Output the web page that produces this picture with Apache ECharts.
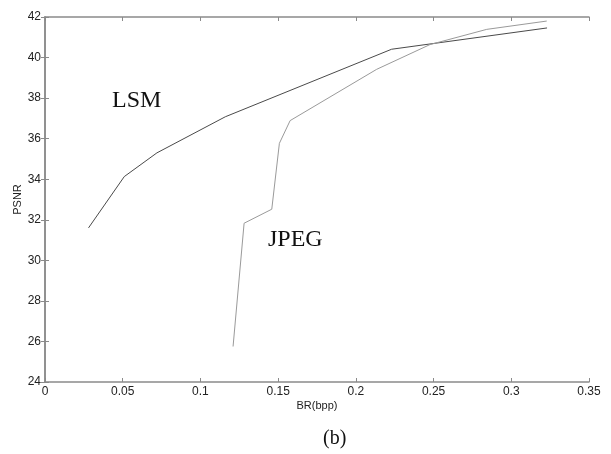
<!DOCTYPE html>
<html>
<head>
<meta charset="utf-8">
<script src="https://cdn.jsdelivr.net/npm/echarts@6/dist/echarts.min.js"></script>
<style>
  html, body { margin: 0; padding: 0; background: #fff; }
  #main { width: 611px; height: 454px; }
</style>
</head>
<body>
<div id="main"></div>
<script>
// values
var lsmBR   = [0.028, 0.051, 0.072, 0.116, 0.223, 0.323];
var lsmPSNR = [31.6, 34.13, 35.3, 37.08, 40.41, 41.46];

var jpegBR   = [0.121, 0.1281, 0.1459, 0.1508, 0.1577, 0.2134, 0.2477, 0.2842, 0.3228];
var jpegPSNR = [25.75, 31.83, 32.52, 35.77, 36.89, 39.42, 40.64, 41.39, 41.8];

var xTicks = { min: 0, max: 0.35, interval: 0.05 };
var yTicks = { min: 24, max: 42, interval: 2 };

function pairs(xs, ys) {
  return xs.map(function (x, i) { return [x, ys[i]]; });
}

var axisCol = '#8a8a8a';
var labelFont = { color: '#222', fontSize: 12, fontFamily: 'Liberation Sans' };

var myChart = echarts.init(document.getElementById('main'));

var option = {
  backgroundColor: '#fff',
  animation: false,
  grid: { left: 45, top: 17, right: 22, bottom: 72, containLabel: false, outerBoundsMode: 'none' },
  xAxis: [{
    type: 'value', position: 'bottom',
    min: xTicks.min, max: xTicks.max, interval: xTicks.interval,
    name: 'BR(bpp)', nameLocation: 'middle', nameGap: 18, nameMoveOverlap: false,
    nameTextStyle: { color: '#222', fontSize: 11, fontFamily: 'Liberation Sans' },
    axisLine: { lineStyle: { color: axisCol, width: 1.5 } },
    axisTick: { inside: true, length: 4, lineStyle: { color: axisCol } },
    axisLabel: Object.assign({ margin: 4 }, labelFont),
    splitLine: { show: false }
  }, {
    type: 'value', position: 'top',
    min: xTicks.min, max: xTicks.max, interval: xTicks.interval,
    axisLine: { lineStyle: { color: axisCol, width: 1.5 } },
    axisTick: { inside: true, length: 4, lineStyle: { color: axisCol } },
    axisLabel: { show: false },
    splitLine: { show: false }
  }],
  yAxis: [{
    type: 'value', position: 'left',
    min: yTicks.min, max: yTicks.max, interval: yTicks.interval,
    name: 'PSNR', nameLocation: 'middle', nameGap: 22, nameRotate: 90, nameMoveOverlap: false,
    nameTextStyle: { color: '#222', fontSize: 11, fontFamily: 'Liberation Sans' },
    axisLine: { lineStyle: { color: axisCol, width: 1.5 } },
    axisTick: { inside: true, length: 4, lineStyle: { color: axisCol } },
    axisLabel: Object.assign({ margin: 4 }, labelFont),
    splitLine: { show: false }
  }, {
    type: 'value', position: 'right',
    min: yTicks.min, max: yTicks.max, interval: yTicks.interval,
    axisLine: { lineStyle: { color: axisCol, width: 1.5 } },
    axisTick: { inside: true, length: 4, lineStyle: { color: axisCol } },
    axisLabel: { show: false },
    splitLine: { show: false }
  }],
  series: [{
    name: 'LSM', type: 'line',
    data: pairs(lsmBR, lsmPSNR),
    showSymbol: false, symbol: 'none',
    lineStyle: { color: '#4a4a4a', width: 1 }
  }, {
    name: 'JPEG', type: 'line',
    data: pairs(jpegBR, jpegPSNR),
    showSymbol: false, symbol: 'none',
    lineStyle: { color: '#9a9a9a', width: 1 }
  }],
  graphic: [{
    type: 'text', left: 112, top: 89,
    style: { text: 'LSM', fill: '#111', font: '24px "Liberation Serif"' }
  }, {
    type: 'text', left: 268, top: 228,
    style: { text: 'JPEG', fill: '#111', font: '24px "Liberation Serif"' }
  }, {
    type: 'text', left: 323, top: 429,
    style: { text: '(b)', fill: '#111', font: '20px "Liberation Serif"' }
  }]
};

myChart.setOption(option);
</script>
</body>
</html>
